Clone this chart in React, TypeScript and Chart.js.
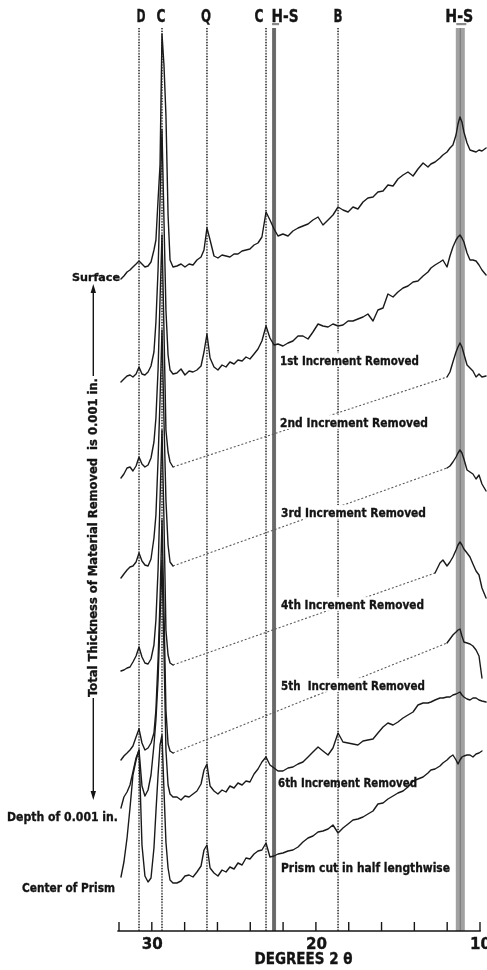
import React, { useEffect, useRef } from "react";
import { Chart, registerables } from "chart.js";

Chart.register(...registerables);

// ---------- x grid (degrees 2θ) ----------
const degLeft = [31.88, 31.7, 31.51, 31.33, 31.15, 30.96, 30.78, 30.6, 30.42, 30.23, 30.05, 29.87, 29.75, 29.62, 29.5, 29.38, 29.26, 29.14, 29.01, 28.89, 28.71];
const degMid = [
  28.47, 28.22, 27.98, 27.73, 27.49, 27.25, 27.0, 26.82, 26.64, 26.45,
  26.21, 25.97, 25.72, 25.48, 25.24, 24.99, 24.75, 24.5, 24.26, 24.02,
  23.77, 23.53, 23.29, 23.04, 22.8, 22.55, 22.31, 22.01, 21.7, 21.4,
  21.09, 20.79, 20.48, 20.18, 19.87, 19.57, 19.26, 18.96, 18.65, 18.35,
  18.04, 17.74, 17.44, 17.13, 16.83, 16.52, 16.22, 15.91, 15.61, 15.3,
  15.0, 14.69, 14.39, 14.08, 13.78, 13.47, 13.17, 12.99,
];
const degRight = [12.74, 12.44, 12.26, 12.01, 11.83, 11.65, 11.46, 11.34, 11.22, 11.1, 10.98, 10.79, 10.61, 10.43, 10.24, 10.06, 9.88, 9.63];

// ---------- stacked intensities (arbitrary units, offset per pattern) ----------
const surfaceLeft = [652, 655, 659, 661, 664, 667, 670, 667, 664, 665, 669, 681, 691, 731, 766, 897, 866, 816, 716, 671, 664];
const surfaceMid = [
  665, 667, 664, 667, 666, 671, 674, 681, 703, 691,
  675, 673, 676, 675, 674, 677, 677, 680, 681, 682,
  686, 688, 694, 719, 711, 702, 695, 697, 695, 700,
  703, 705, 707, 711, 714, 706, 711, 716, 724, 721,
  719, 724, 722, 729, 733, 734, 739, 740, 746, 745,
  752, 756, 759, 755, 762, 768, 764, 767,
];
const surfaceRight = [769, 773, 776, 779, 783, 786, 796, 807, 814, 809, 799, 788, 781, 780, 779, 781, 780, 783];

const inc1Left = [549, 552, 555, 556, 554, 557, 564, 557, 556, 559, 565, 579, 609, 661, 731, 801, 711, 621, 576, 561, 557];
const inc1Mid = [
  558, 562, 556, 560, 559, 561, 565, 579, 597, 573,
  564, 561, 566, 564, 569, 567, 571, 570, 574, 572,
  577, 582, 590, 605, 593, 586, 587, 585, 588, 590,
  595, 595, 592, 599, 607, 605, 604, 607, 605, 606,
  610, 610, 612, 614, 617, 610, 621, 623, 637, 634,
  639, 643, 645, 649, 650, 655, 659, 663,
];
const inc1Right = [666, 669, 671, 664, 675, 684, 691, 694, 696, 693, 689, 678, 671, 671, 670, 666, 661, 656];

const inc2Left = [453, 457, 463, 464, 460, 465, 474, 467, 464, 466, 473, 489, 513, 561, 631, 696, 601, 501, 479, 469, 464];
const inc2Right = [null, null, null, 554, 559, 569, 579, 584, 588, 584, 577, 566, 563, 560, 554, 557, 554, 555];

const inc3Left = [353, 357, 361, 364, 365, 369, 378, 370, 366, 365, 372, 393, 416, 471, 531, 601, 511, 431, 386, 369, 365];
const inc3Right = [null, null, null, 463, 465, 469, 474, 478, 481, 478, 472, 461, 459, 457, 452, 456, 447, 440];

const inc4Left = [260, 261, 263, 264, 269, 275, 284, 274, 268, 267, 272, 286, 311, 361, 431, 501, 411, 301, 276, 268, 266];
const inc4Right = [358, 368, 371, 365, 369, 374, 381, 386, 389, 386, 382, 378, 374, 367, 360, 356, 343, 333];

const inc5Left = [171, 175, 178, 181, 185, 194, 202, 188, 181, 183, 188, 198, 221, 271, 331, 411, 321, 221, 187, 180, 178];
const inc5Right = [null, null, null, 288, 292, 296, 299, 301, 302, 295, 289, 288, 287, 285, 281, 275, 253, null];

const inc6Left = [123, 134, 139, 146, 159, 173, 181, 145, 135, 141, 156, 186, 211, 251, 311, 371, 281, 181, 146, 137, 134];
const inc6Mid = [
  134, 131, 135, 134, 137, 140, 147, 161, 167, 145,
  140, 137, 141, 139, 145, 143, 148, 146, 150, 149,
  157, 162, 169, 174, 166, 163, 160, 160, 163, 164,
  167, 169, 174, 179, 184, 180, 176, 183, 198, 189,
  188, 187, 186, 190, 191, 192, 198, 204, 208, 206,
  209, 213, 216, 219, 226, 228, 228, 229,
];
const inc6Right = [231, 233, 233, 234, 234, 236, 237, 238, 239, 236, 234, 232, 231, 233, 233, 231, 230, 229];

const prismLeft = [54, 69, 93, 123, 156, 171, 181, 86, 55, 49, 53, 83, 119, 156, 186, 196, 141, 89, 63, 51, 48];
const prismMid = [
  48, 50, 55, 56, 54, 59, 65, 81, 86, 63,
  58, 55, 61, 59, 64, 62, 68, 66, 73, 72,
  77, 80, 81, 88, 74, 75, 77, 78, 80, 81,
  84, 89, 93, 95, 99, 100, 102, 106, 98, 103,
  107, 111, 112, 114, 117, 120, 127, 128, 132, 135,
  138, 140, 144, 150, 152, 154, 158, 161,
];
const prismRight = [162, 165, 168, 171, 174, 176, 171, 167, 171, 174, 175, 176, 176, 174, 177, 178, 180, null];

// ---------- labels ----------
const markerDegrees = [30.78, 29.38, 26.64, 23.04, 22.55, 18.65, 11.2];
const markerLabels = ["D", "C", "Q", "C", "H-S", "B", "H-S"];
const axisTicks = [32, 30, 28, 26, 24, 22, 20, 18, 16, 14, 12, 10];
const axisTickLabels = [30, 20, 10];
const axisTitle = "DEGREES 2 θ";
const rightLabels = [
  "1st Increment Removed",
  "2nd Increment Removed",
  "3rd Increment Removed",
  "4th Increment Removed",
  "5th  Increment Removed",
  "6th Increment Removed",
  "Prism cut in half lengthwise",
];
const leftLabels = ["Surface", "Depth of 0.001 in.", "Center of Prism"];
const sideNote = "Total Thickness of Material Removed  is 0.001 in.";

// ---------- build ----------
const twoTheta = [...degLeft, ...degMid, ...degRight];
const traceDefs = [
  { name: "Surface", left: surfaceLeft, mid: surfaceMid, right: surfaceRight },
  { name: "1st", left: inc1Left, mid: inc1Mid, right: inc1Right },
  { name: "2nd", left: inc2Left, mid: null, right: inc2Right },
  { name: "3rd", left: inc3Left, mid: null, right: inc3Right },
  { name: "4th", left: inc4Left, mid: null, right: inc4Right },
  { name: "5th", left: inc5Left, mid: null, right: inc5Right },
  { name: "6th", left: inc6Left, mid: inc6Mid, right: inc6Right },
  { name: "Prism", left: prismLeft, mid: prismMid, right: prismRight },
];

const FONT = '"DejaVu Sans", "Liberation Sans", sans-serif';

function fitText(ctx: CanvasRenderingContext2D, text: string, x: number, cy: number, width: number, size: number, align: string, bg?: boolean) {
  ctx.save();
  ctx.font = `bold ${size}px ${FONT}`;
  const m = ctx.measureText(text).width;
  const s = width / m;
  const left = align === "center" ? x - width / 2 : align === "right" ? x - width : x;
  if (bg) {
    ctx.fillStyle = "#ffffff";
    ctx.fillRect(left - 2, cy - size * 0.55, width + 4, size * 1.1);
  }
  ctx.fillStyle = "#141414";
  ctx.strokeStyle = "#141414";
  ctx.lineWidth = 0.35;
  ctx.textBaseline = "alphabetic";
  ctx.textAlign = "left";
  ctx.translate(left, cy + size * 0.36);
  ctx.scale(s, 1);
  ctx.fillText(text, 0, 0);
  ctx.strokeText(text, 0, 0);
  ctx.restore();
}

const markerStyle = [
  { kind: "dot", dx: 2, w: 9 },
  { kind: "dot", dx: -1, w: 9 },
  { kind: "dot", dx: -1, w: 10 },
  { kind: "dot", dx: -7, w: 9 },
  { kind: "band", dx: 11, w: 27, band: 4, color: "#707070", bar: [-2, 7] },
  { kind: "dot", dx: 0, w: 9 },
  { kind: "band", dx: -1, w: 28, band: 9, color: "rgba(125,125,125,0.72)", bar: [-4, 10] },
];

const rightLayout = [
  { x: 280, y: 360, w: 139, bg: true },
  { x: 280, y: 422, w: 148, bg: true },
  { x: 281, y: 512, w: 145, bg: true },
  { x: 281, y: 604, w: 143, bg: true },
  { x: 281, y: 685, w: 144, bg: true },
  { x: 278, y: 782, w: 139, bg: false },
  { x: 281, y: 867, w: 169, bg: false },
];

const overlay = {
  id: "overlay",
  beforeDatasetsDraw(chart: any) {
    const { ctx, chartArea, scales } = chart;
    const xs = scales.x;
    const top = 28;
    const bottom = chartArea.bottom;
    markerDegrees.forEach((d, i) => {
      const px = xs.getPixelForValue(d);
      const st: any = markerStyle[i];
      ctx.save();
      if (st.kind === "dot") {
        ctx.strokeStyle = "rgba(150,150,150,0.6)";
        ctx.lineWidth = 0.7;
        ctx.beginPath();
        ctx.moveTo(px, top);
        ctx.lineTo(px, bottom);
        ctx.stroke();
        ctx.setLineDash([1.2, 1.6]);
        ctx.strokeStyle = "rgba(40,40,40,0.9)";
        ctx.lineWidth = 1.7;
        ctx.beginPath();
        ctx.moveTo(px, top);
        ctx.lineTo(px, bottom);
        ctx.stroke();
      } else {
        ctx.fillStyle = st.color;
        ctx.fillRect(px - st.band / 2, top, st.band, bottom - top);
        ctx.fillStyle = "rgba(90,90,90,0.5)";
        ctx.fillRect(px - 0.6, top, 1.2, bottom - top);
        ctx.fillStyle = "#8a8a8a";
        ctx.fillRect(px + st.bar[0], 23, st.bar[1], 2.2);
      }
      ctx.restore();
    });
  },
  afterDatasetsDraw(chart: any) {
    const { ctx, chartArea, scales } = chart;
    const xs = scales.x;

    rightLabels.forEach((t, i) => {
      const L = rightLayout[i];
      fitText(ctx, t, L.x, L.y, L.w, 12.5, "left", L.bg);
    });

    fitText(ctx, leftLabels[0], 120, 277, 48, 11, "right");
    fitText(ctx, leftLabels[1], 7, 817, 111, 12, "left");
    fitText(ctx, leftLabels[2], 22, 888, 93, 12, "left");

    ctx.save();
    ctx.translate(92, 537.5);
    ctx.rotate(-Math.PI / 2);
    fitText(ctx, sideNote, 0, 0, 319, 12.5, "center");
    ctx.restore();

    ctx.save();
    ctx.strokeStyle = "#151515";
    ctx.fillStyle = "#151515";
    ctx.lineWidth = 1.4;
    ctx.beginPath();
    ctx.moveTo(93.3, 290);
    ctx.lineTo(93.3, 376);
    ctx.moveTo(93.3, 698);
    ctx.lineTo(93.3, 794);
    ctx.stroke();
    ctx.beginPath();
    ctx.moveTo(93.3, 284);
    ctx.lineTo(90.6, 293);
    ctx.lineTo(96, 293);
    ctx.closePath();
    ctx.fill();
    ctx.beginPath();
    ctx.moveTo(93.3, 800);
    ctx.lineTo(90.6, 791);
    ctx.lineTo(96, 791);
    ctx.closePath();
    ctx.fill();
    ctx.restore();

    markerDegrees.forEach((d, i) => {
      const st: any = markerStyle[i];
      const px = xs.getPixelForValue(d) + st.dx;
      fitText(ctx, markerLabels[i], px, 16, st.w, 17, "center");
    });

    const y0 = chartArea.bottom;
    ctx.save();
    ctx.strokeStyle = "#151515";
    ctx.lineWidth = 1.6;
    ctx.beginPath();
    ctx.moveTo(xs.getPixelForValue(32.1), y0);
    ctx.lineTo(xs.getPixelForValue(9.95), y0);
    ctx.stroke();
    ctx.lineWidth = 1.4;
    axisTicks.forEach((t) => {
      const px = xs.getPixelForValue(t);
      ctx.beginPath();
      ctx.moveTo(px, y0);
      ctx.lineTo(px, y0 - 9);
      ctx.stroke();
    });
    ctx.restore();
    axisTickLabels.forEach((t) => {
      fitText(ctx, String(t), xs.getPixelForValue(t) + 0.5, 943, 21, 16, "center");
    });
    fitText(ctx, axisTitle, (chartArea.left + chartArea.right) / 2 + 1, 959, 98, 15, "center");
  },
};

export default function App() {
  const ref = useRef<HTMLCanvasElement | null>(null);

  useEffect(() => {
    document.body.style.margin = "0";
    const canvas = ref.current;
    if (!canvas) return;

    const traceSets = traceDefs.map((t) => {
      const vals = [...t.left, ...(t.mid ? t.mid : degMid.map(() => null)), ...t.right];
      return {
        label: t.name,
        data: twoTheta.map((x, i) => ({ x, y: vals[i] })),
        borderColor: "#1a1a1a",
        borderWidth: 1.4,
        pointRadius: 0,
        tension: 0,
        spanGaps: false,
        borderJoinStyle: "round",
        borderCapStyle: "round",
        fill: false,
      };
    });

    const connectorSets = traceDefs
      .filter((t) => !t.mid)
      .map((t) => {
        const li = t.left.length - 1;
        const ri = t.right.findIndex((v) => v !== null);
        return {
          label: t.name + " connector",
          data: [
            { x: degLeft[li], y: t.left[li] },
            { x: degRight[ri], y: t.right[ri] },
          ],
          borderColor: "#5a5a5a",
          borderWidth: 1.1,
          borderDash: [2, 2],
          pointRadius: 0,
          tension: 0,
          fill: false,
        };
      });

    const chart = new Chart(canvas, {
      type: "line",
      data: { datasets: [...traceSets, ...connectorSets] as any },
      options: {
        responsive: false,
        animation: false,
        devicePixelRatio: 1,
        layout: { padding: { left: 118, right: 0, top: 0, bottom: 39 } },
        scales: {
          x: { type: "linear", min: 9.573, max: 32.061, reverse: true, display: false },
          y: { type: "linear", min: 0, max: 931, display: false },
        },
        plugins: { legend: { display: false }, tooltip: { enabled: false } },
        events: [],
      },
      plugins: [overlay],
    });
    return () => chart.destroy();
  }, []);

  return (
    <div style={{ position: "absolute", left: 0, top: 0, width: 487, height: 970, background: "#fff" }}>
      <canvas ref={ref} width={487} height={970} style={{ display: "block", width: 487, height: 970 }} />
    </div>
  );
}
